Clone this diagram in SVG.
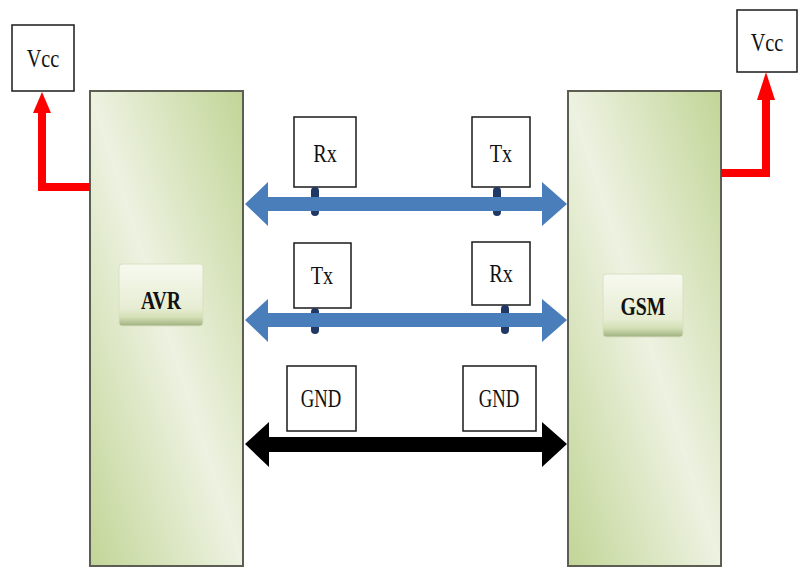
<svg xmlns="http://www.w3.org/2000/svg" width="798" height="571" viewBox="0 0 798 571">
<defs>
<linearGradient id="boxG" x1="1" y1="0" x2="0" y2="1">
<stop offset="0" stop-color="#c2d597"/>
<stop offset="0.5" stop-color="#edf2e1"/>
<stop offset="1" stop-color="#c2d597"/>
</linearGradient>
<linearGradient id="lblG" x1="0" y1="0" x2="0" y2="1">
<stop offset="0" stop-color="#f7f9ef"/>
<stop offset="0.72" stop-color="#e6edd3"/>
<stop offset="0.86" stop-color="#d3dfb5"/>
<stop offset="1" stop-color="#9fb07e"/>
</linearGradient>
</defs>
<style>
.blk{fill:url(#boxG);stroke:#5b5e50;stroke-width:2}
.lbl{fill:url(#lblG);stroke:#d8e0c2;stroke-width:1}
.pin{fill:#ffffff;stroke:#1a1a1a;stroke-width:1.5}
.t{font-size:26px;fill:#111111;text-anchor:middle}
.b{font-weight:bold}
.blue{fill:#4a7ebb}
.dot{fill:#1f3864}
.red{fill:none;stroke:#ff0000;stroke-width:8}
.redh{fill:#ff0000}
</style>
<rect width="798" height="571" fill="#ffffff"/>

<g id="avr">
<rect class="blk" x="90" y="91" width="153" height="475"/>
<rect class="lbl" x="119" y="264" width="84" height="62" rx="3"/>
<text class="t b" font-family="'Liberation Serif', 'Times New Roman', serif" transform="translate(161,309) scale(0.76,1)">AVR</text>
</g>
<g id="gsm">
<rect class="blk" x="568" y="91" width="153" height="475"/>
<rect class="lbl" x="603" y="274" width="80" height="63" rx="3"/>
<text class="t b" font-family="'Liberation Serif', 'Times New Roman', serif" transform="translate(643,315) scale(0.76,1)">GSM</text>
</g>
<g id="vcc-left">
<rect class="pin" x="12" y="25" width="62" height="66"/>
<text class="t" font-family="'Liberation Serif', 'Times New Roman', serif" transform="translate(43,67) scale(0.78,1)">Vcc</text>
</g>
<g id="vcc-right">
<rect class="pin" x="737" y="10" width="60" height="62"/>
<text class="t" font-family="'Liberation Serif', 'Times New Roman', serif" transform="translate(767,51) scale(0.78,1)">Vcc</text>
</g>
<g id="rx-avr">
<rect class="pin" x="294" y="117" width="62" height="70"/>
<text class="t" font-family="'Liberation Serif', 'Times New Roman', serif" transform="translate(325,162) scale(0.78,1)">Rx</text>
</g>
<g id="tx-gsm">
<rect class="pin" x="472" y="117" width="58" height="70"/>
<text class="t" font-family="'Liberation Serif', 'Times New Roman', serif" transform="translate(501,162) scale(0.78,1)">Tx</text>
</g>
<g id="tx-avr">
<rect class="pin" x="294" y="243" width="57" height="65"/>
<text class="t" font-family="'Liberation Serif', 'Times New Roman', serif" transform="translate(322,284) scale(0.78,1)">Tx</text>
</g>
<g id="rx-gsm">
<rect class="pin" x="472" y="242" width="58" height="63"/>
<text class="t" font-family="'Liberation Serif', 'Times New Roman', serif" transform="translate(501,282) scale(0.78,1)">Rx</text>
</g>
<g id="gnd-avr">
<rect class="pin" x="287" y="366" width="69" height="65"/>
<text class="t" font-family="'Liberation Serif', 'Times New Roman', serif" transform="translate(321,407) scale(0.72,1)">GND</text>
</g>
<g id="gnd-gsm">
<rect class="pin" x="463" y="366" width="73" height="65"/>
<text class="t" font-family="'Liberation Serif', 'Times New Roman', serif" transform="translate(499,407) scale(0.72,1)">GND</text>
</g>

<g id="connectors">
<path class="red" d="M90,187 H42 V110"/>
<polygon class="redh" points="42,92 33,113 51,113"/>
<path class="red" d="M721,173 H766 V97"/>
<polygon class="redh" points="766,72 757,100 775,100"/>

<rect class="dot" x="311" y="187" width="8" height="29" rx="4"/>
<rect class="dot" x="493" y="187" width="8" height="29" rx="4"/>
<polygon class="blue" points="245,204 268,182 268,197 542,197 542,182 567,204 542,226 542,211 268,211 268,226"/>

<rect class="dot" x="311" y="308" width="8" height="26" rx="4"/>
<rect class="dot" x="501" y="305" width="8" height="29" rx="4"/>
<polygon class="blue" points="245,320 268,299 268,313 542,313 542,299 567,320 542,342 542,327 268,327 268,342"/>

<polygon fill="#000000" points="245,444 269,422 269,437 542,437 542,422 567,444 542,467 542,452 269,452 269,467"/>
</g>
</svg>
